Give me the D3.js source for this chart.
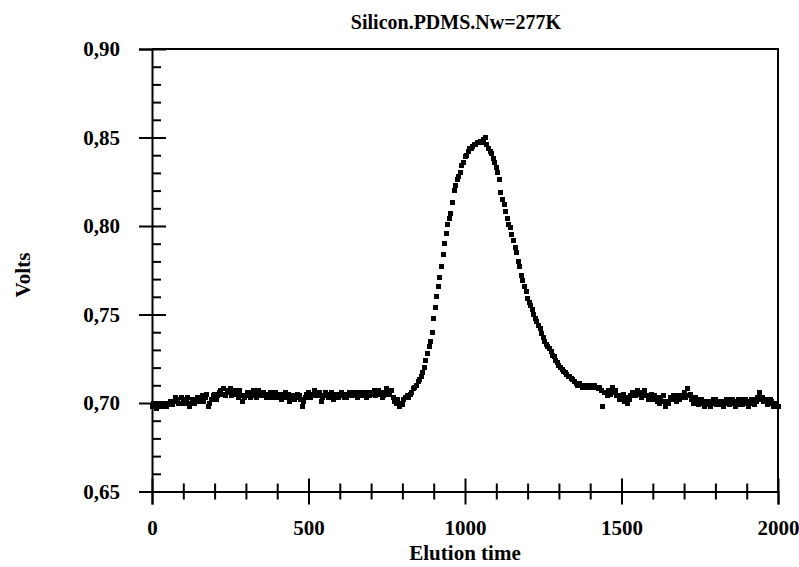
<!DOCTYPE html>
<html>
<head>
<meta charset="utf-8">
<script src="https://cdn.jsdelivr.net/npm/d3@7"></script>
<style>
  html, body { margin: 0; padding: 0; background: #fff; }
  svg { display: block; }
  text { font-family: "Liberation Serif", "Times New Roman", serif; font-weight: bold; fill: #000; }
</style>
</head>
<body>
<svg id="chart" width="799" height="567"></svg>
<script>
// ---- Data ----
const title = "Silicon.PDMS.Nw=277K";
const xLabel = "Elution time";
const yLabel = "Volts";

const xMajorTicks = [0, 500, 1000, 1500, 2000];
const xMinorTicks = [100, 200, 300, 400, 600, 700, 800, 900, 1100, 1200, 1300, 1400, 1600, 1700, 1800, 1900];
const yMajorTicks = [0.65, 0.70, 0.75, 0.80, 0.85, 0.90];
const yMinorTicks = [0.66, 0.67, 0.68, 0.69, 0.71, 0.72, 0.73, 0.74, 0.76, 0.77, 0.78, 0.79,
                     0.81, 0.82, 0.83, 0.84, 0.86, 0.87, 0.88, 0.89];
const yTickLabels = ["0,65", "0,70", "0,75", "0,80", "0,85", "0,90"];

// baseline before the peak
const timesA = [0,5,10,15,20,25,30,35,40,45,50,55,60,65,70,75,80,85,90,95,
  100,105,110,115,120,125,130,135,140,145,150,155,160,165,170,175,180,185,190,195,
  200,205,210,215,220,225,230,235,240,245,250,255,260,265,270,275,280,285,290,295,
  300,305,310,315,320,325,330,335,340,345,350,355,360,365,370,375,380,385,390,395,
  400,405,410,415,420,425,430,435,440,445,450,455,460,465,470,475,480,485,490,495,
  500,505,510,515,520,525,530,535,540,545,550,555,560,565,570,575,580,585,590,595,
  600,605,610,615,620,625,630,635,640,645,650,655,660,665,670,675,680,685,690,695,
  700,705,710,715,720,725,730,735,740,745,750,755,760,765,770,775,780,785,790,795];
const voltsA = [0.698,0.700,0.699,0.697,0.700,0.699,0.698,0.700,0.700,0.698,0.699,0.700,0.701,0.699,0.701,0.703,0.702,0.700,0.700,0.703,
  0.702,0.700,0.701,0.703,0.698,0.700,0.702,0.700,0.702,0.703,0.701,0.703,0.704,0.701,0.703,0.705,0.698,0.700,0.702,0.704,
  0.705,0.702,0.704,0.706,0.707,0.705,0.708,0.704,0.706,0.707,0.708,0.704,0.706,0.707,0.705,0.703,0.707,0.704,0.701,0.703,
  0.704,0.706,0.706,0.703,0.704,0.707,0.706,0.703,0.707,0.705,0.704,0.706,0.705,0.703,0.703,0.705,0.706,0.703,0.704,0.706,
  0.703,0.704,0.705,0.702,0.704,0.706,0.703,0.705,0.701,0.703,0.704,0.702,0.703,0.705,0.704,0.702,0.698,0.701,0.703,0.705,
  0.706,0.703,0.705,0.704,0.707,0.705,0.704,0.706,0.701,0.703,0.704,0.706,0.705,0.703,0.704,0.706,0.702,0.704,0.705,0.703,
  0.704,0.706,0.705,0.703,0.703,0.705,0.706,0.704,0.704,0.706,0.705,0.703,0.706,0.704,0.704,0.706,0.705,0.703,0.706,0.704,
  0.705,0.706,0.707,0.704,0.705,0.707,0.706,0.703,0.704,0.706,0.708,0.705,0.706,0.707,0.703,0.701,0.700,0.702,0.698,0.700];

// peak region
const timesB = [800,805,810,815,820,825,830,835,840,845,850,855,860,865,870,875,880,885,890,895,
  900,905,910,915,920,925,930,935,940,945,950,955,960,965,970,975,980,985,990,995,
  1000,1005,1010,1015,1020,1025,1030,1035,1040,1045,1050,1055,1060,1065,1070,1075,1080,1085,1090,1095,
  1100,1105,1110,1115,1120,1125,1130,1135,1140,1145,1150,1155,1160,1165,1170,1175,1180,1185,1190,1195,
  1200,1205,1210,1215,1220,1225,1230,1235,1240,1245,1250,1255,1260,1265,1270,1275,1280,1285,1290,1295,
  1300,1305,1310,1315,1320,1325,1330,1335,1340,1345,1350,1355,1360,1365,1370,1375,1380,1385,1390,1395,
  1400,1405,1410,1415,1420,1425,1430,1435,1440,1445];
const voltsB = [0.699,0.702,0.703,0.704,0.703,0.705,0.706,0.708,0.709,0.710,0.712,0.713,0.715,0.717,0.720,0.724,0.728,0.732,0.735,0.740,
  0.748,0.754,0.760,0.766,0.771,0.777,0.784,0.790,0.796,0.801,0.804,0.807,0.813,0.820,0.823,0.826,0.828,0.830,0.834,0.836,
  0.839,0.840,0.842,0.844,0.844,0.845,0.846,0.846,0.847,0.847,0.848,0.847,0.849,0.850,0.846,0.844,0.842,0.841,0.838,0.836,
  0.833,0.830,0.826,0.819,0.815,0.812,0.808,0.804,0.801,0.799,0.795,0.792,0.788,0.785,0.780,0.777,0.772,0.769,0.766,0.763,
  0.759,0.757,0.755,0.753,0.750,0.748,0.746,0.744,0.742,0.739,0.737,0.735,0.733,0.732,0.731,0.729,0.727,0.726,0.724,0.723,
  0.721,0.720,0.719,0.718,0.717,0.716,0.715,0.715,0.714,0.713,0.712,0.711,0.710,0.711,0.710,0.709,0.710,0.710,0.709,0.710,
  0.710,0.709,0.710,0.710,0.709,0.708,0.709,0.707,0.698,0.706];

// tail after the peak
const timesC = [1450,1455,1460,1465,1470,1475,1480,1485,1490,1495,1500,1505,1510,1515,1520,1525,1530,1535,1540,1545,
  1550,1555,1560,1565,1570,1575,1580,1585,1590,1595,1600,1605,1610,1615,1620,1625,1630,1635,1640,1645,
  1650,1655,1660,1665,1670,1675,1680,1685,1690,1695,1700,1705,1710,1715,1720,1725,1730,1735,1740,1745,
  1750,1755,1760,1765,1770,1775,1780,1785,1790,1795,1800,1805,1810,1815,1820,1825,1830,1835,1840,1845,
  1850,1855,1860,1865,1870,1875,1880,1885,1890,1895,1900,1905,1910,1915,1920,1925,1930,1935,1940,1945,
  1950,1955,1960,1965,1970,1975,1980,1985,1990,1995,2000];
const voltsC = [0.706,0.704,0.707,0.705,0.709,0.706,0.707,0.704,0.704,0.702,0.703,0.705,0.701,0.703,0.700,0.702,0.704,0.706,0.706,0.704,
  0.707,0.705,0.706,0.703,0.705,0.707,0.704,0.702,0.703,0.705,0.702,0.704,0.703,0.701,0.700,0.703,0.701,0.704,0.698,0.701,
  0.700,0.703,0.702,0.704,0.703,0.701,0.704,0.702,0.704,0.703,0.706,0.703,0.708,0.704,0.705,0.702,0.700,0.703,0.702,0.699,
  0.700,0.702,0.701,0.698,0.699,0.701,0.701,0.698,0.700,0.702,0.702,0.699,0.699,0.701,0.701,0.698,0.700,0.702,0.702,0.699,
  0.700,0.702,0.701,0.698,0.699,0.702,0.702,0.699,0.700,0.702,0.701,0.698,0.700,0.702,0.702,0.699,0.701,0.703,0.706,0.702,
  0.703,0.701,0.702,0.699,0.700,0.702,0.701,0.698,0.699,0.700,0.698];

const times = timesA.concat(timesB, timesC);
const volts = voltsA.concat(voltsB, voltsC);
const points = times.map((t, i) => ({ t: t, v: volts[i] }));

// ---- Layout ----
const svg = d3.select("#chart");
const mLeft = 152, mRight = 778, mTop = 49, mBottom = 491.5;
const x = d3.scaleLinear().domain([0, 2000]).range([mLeft, mRight]);
const y = d3.scaleLinear().domain([0.65, 0.90]).range([mBottom, mTop]);
const strokeW = 2;

// frame (top and right)
svg.append("path")
  .attr("d", `M${mLeft},${mTop}H${mRight}V${mBottom}`)
  .attr("fill", "none").attr("stroke", "#000").attr("stroke-width", strokeW);

function styleAxis(g) {
  g.selectAll("path.domain").attr("stroke", "#000").attr("stroke-width", strokeW);
  g.selectAll(".tick line").attr("stroke", "#000").attr("stroke-width", strokeW);
}

// Y axis: major ticks outward + inward, minor inward
const yOut = svg.append("g").attr("transform", `translate(${mLeft},0)`)
  .call(d3.axisLeft(y).tickValues(yMajorTicks).tickSize(13).tickPadding(19)
        .tickFormat((d, i) => yTickLabels[i]));
styleAxis(yOut);
yOut.selectAll("text").style("font-size", "21px").style("font-family", "Liberation Serif").style("font-weight", "bold");
svg.append("g").attr("transform", `translate(${mLeft},0)`)
  .call(d3.axisLeft(y).tickValues(yMajorTicks).tickSize(-14).tickFormat(""))
  .call(styleAxis).select("path.domain").remove();
svg.append("g").attr("transform", `translate(${mLeft},0)`)
  .call(d3.axisLeft(y).tickValues(yMinorTicks).tickSize(-9).tickFormat(""))
  .call(styleAxis).select("path.domain").remove();

// X axis: major ticks crossing, minor crossing
const xOut = svg.append("g").attr("transform", `translate(0,${mBottom})`)
  .call(d3.axisBottom(x).tickValues(xMajorTicks).tickSize(13).tickPadding(16).tickFormat(d3.format("d")));
styleAxis(xOut);
xOut.selectAll("text").style("font-size", "21px").style("font-family", "Liberation Serif").style("font-weight", "bold");
svg.append("g").attr("transform", `translate(0,${mBottom})`)
  .call(d3.axisBottom(x).tickValues(xMajorTicks).tickSize(-13).tickFormat(""))
  .call(styleAxis).select("path.domain").remove();
svg.append("g").attr("transform", `translate(0,${mBottom})`)
  .call(d3.axisBottom(x).tickValues(xMinorTicks).tickSize(8).tickFormat(""))
  .call(styleAxis).select("path.domain").remove();
svg.append("g").attr("transform", `translate(0,${mBottom})`)
  .call(d3.axisBottom(x).tickValues(xMinorTicks).tickSize(-8).tickFormat(""))
  .call(styleAxis).select("path.domain").remove();

// data squares
const sq = 5;
svg.append("g").attr("shape-rendering", "crispEdges")
  .selectAll("rect").data(points).join("rect")
  .attr("x", d => Math.round(x(d.t) - sq / 2))
  .attr("y", d => Math.round(y(d.v) - sq / 2))
  .attr("width", sq).attr("height", sq)
  .attr("fill", "#000");

// titles
svg.append("text").attr("x", 456).attr("y", 29).attr("text-anchor", "middle")
  .style("font-size", "20px").text(title);
svg.append("text").attr("x", 465).attr("y", 560).attr("text-anchor", "middle")
  .style("font-size", "21px").text(xLabel);
svg.append("text").attr("transform", "translate(30,275) rotate(-90)").attr("text-anchor", "middle")
  .style("font-size", "21px").text(yLabel);
</script>
</body>
</html>
